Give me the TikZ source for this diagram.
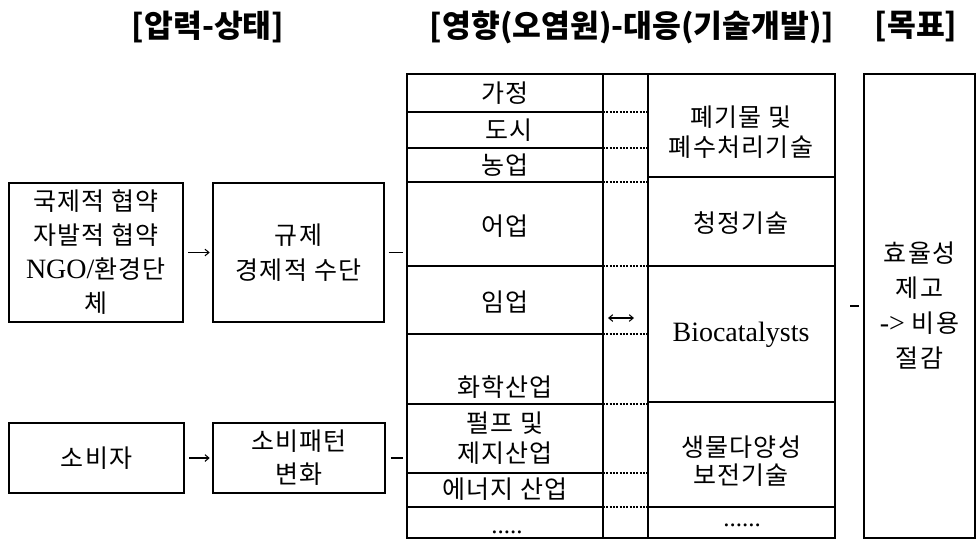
\documentclass[tikz,border=0pt]{standalone}
\usepackage{fontspec}
\setmainfont{Noto Sans CJK KR}[LetterSpace=5]
\newfontfamily\hdf{Noto Sans CJK KR}
\newfontfamily\lat{Liberation Serif}
\usetikzlibrary{arrows.meta}
\begin{document}
\begin{tikzpicture}[x={(0.75pt,0pt)},y={(0pt,-0.75pt)},
  box/.style={draw, line width=0.9pt, inner sep=0pt, align=center,
    font=\fontsize{18.75}{25.5}\selectfont},
  txt/.style={inner sep=0pt, align=center, font=\fontsize{18.75}{25.5}\selectfont},
  hd/.style={inner sep=0pt, font=\hdf\fontsize{23.5}{28}\selectfont\bfseries},
  cell/.style={line width=0.9pt},
  dotl/.style={line width=0.8pt, dash pattern=on 1.6pt off 0.9pt},
  conn/.style={line width=0.8pt},
  arr/.style={conn, -{Straight Barb[length=3pt,width=5pt]}},
  darr/.style={conn, {Straight Barb[length=3pt,width=5pt]}-{Straight Barb[length=3pt,width=5pt]}}]
\useasboundingbox[fill=white] (0,0) rectangle (977,540);

% headers
\node[hd] (h1) at (208,27) {[압력-상태]};
\node[hd] (h2) at (632,27) {[영향(오염원)-대응(기술개발)]};
\node[hd] (h3) at (916,27) {[목표]};

% left boxes
\node[box, minimum width=130.5pt, minimum height=104.25pt] (b1) at (96,252.5)
  {국제적 협약\\자발적 협약\\{\lat\fontsize{21}{25.5}\selectfont NGO/}환경단\\체};
\node[box, minimum width=128.25pt, minimum height=104.25pt,
  font=\fontsize{18.75}{26.25}\selectfont] (b2) at (298.5,252.5)
  {규제\\경제적 수단};
\node[box, minimum width=131.25pt, minimum height=52.5pt] (b3) at (96.5,458) {소비자};
\node[box, minimum width=129pt, minimum height=52.5pt,
  font=\fontsize{18.75}{24.75}\selectfont] (b4) at (299,458) {소비패턴\\변화};

% table frame
\node[box, minimum width=321pt, minimum height=348pt] (tbl) at (621,306) {};
% goal box
\node[box, minimum width=83.25pt, minimum height=348pt,
  font=\fontsize{18.75}{26.25}\selectfont] (goal) at (919.5,306)
  {효율성\\제고\\{\lat\fontsize{21}{26}\selectfont ->} 비용\\절감};

% table inner lines
\draw[cell] (603,74) -- (603,538);
\draw[cell] (648,74) -- (648,538);
\foreach \yy in {112,148,182,266,334,404,473,507}{
  \draw[cell] (407,\yy) -- (603,\yy);
  \draw[dotl] (603,\yy) -- (648,\yy);
}
\foreach \yy in {177,266,402,507}{
  \draw[cell] (648,\yy) -- (835,\yy);
}

% left column texts
\node[txt] (c1) at (505,93) {가정};
\node[txt] (c2) at (509,130) {도시};
\node[txt] (c3) at (505,165) {농업};
\node[txt] (c4) at (505,226) {어업};
\node[txt] (c5) at (505,302) {임업};
\node[txt] (c6) at (505,387) {화학산업};
\node[txt, font=\fontsize{18.75}{22.5}\selectfont] (c7) at (505,438) {펄프 및\\제지산업};
\node[txt] (c8) at (505,489) {에너지 산업};
\node[txt, anchor=base] (c9) at (507,533) {\lat .....};

% right column texts
\node[txt, font=\fontsize{18.75}{22.5}\selectfont] (r1) at (741,132) {폐기물 및\\폐수처리기술};
\node[txt] (r2) at (741,223) {청정기술};
\node[txt, font=\lat\fontsize{21}{24}\selectfont] (r3) at (741,335) {Biocatalysts};
\node[txt, font=\fontsize{18.75}{21}\selectfont] (r4) at (741,461) {생물다양성\\보전기술};
\node[txt, anchor=base] (r5) at (742,526) {\lat ......};

% double arrow in middle column
\coordinate (dl) at (608,318);
\coordinate (dr) at (634,318);
\draw[darr] (dl) -- (dr);

% connectors
\draw[arr, shorten <=3.5pt, shorten >=2pt] (b1) -- (b2);
\draw[arr, shorten <=3.5pt, shorten >=2pt] (b3) -- (b4);
\draw[conn, shorten <=3pt, shorten >=2.2pt] (b2.east) -- (b2.east -| tbl.west);
\draw[conn, shorten <=4pt, shorten >=2.2pt] (b4.east) -- (b4.east -| tbl.west);
\draw[conn, shorten <=11pt, shorten >=3pt] (tbl.east) -- (goal.west);
\end{tikzpicture}
\end{document}
